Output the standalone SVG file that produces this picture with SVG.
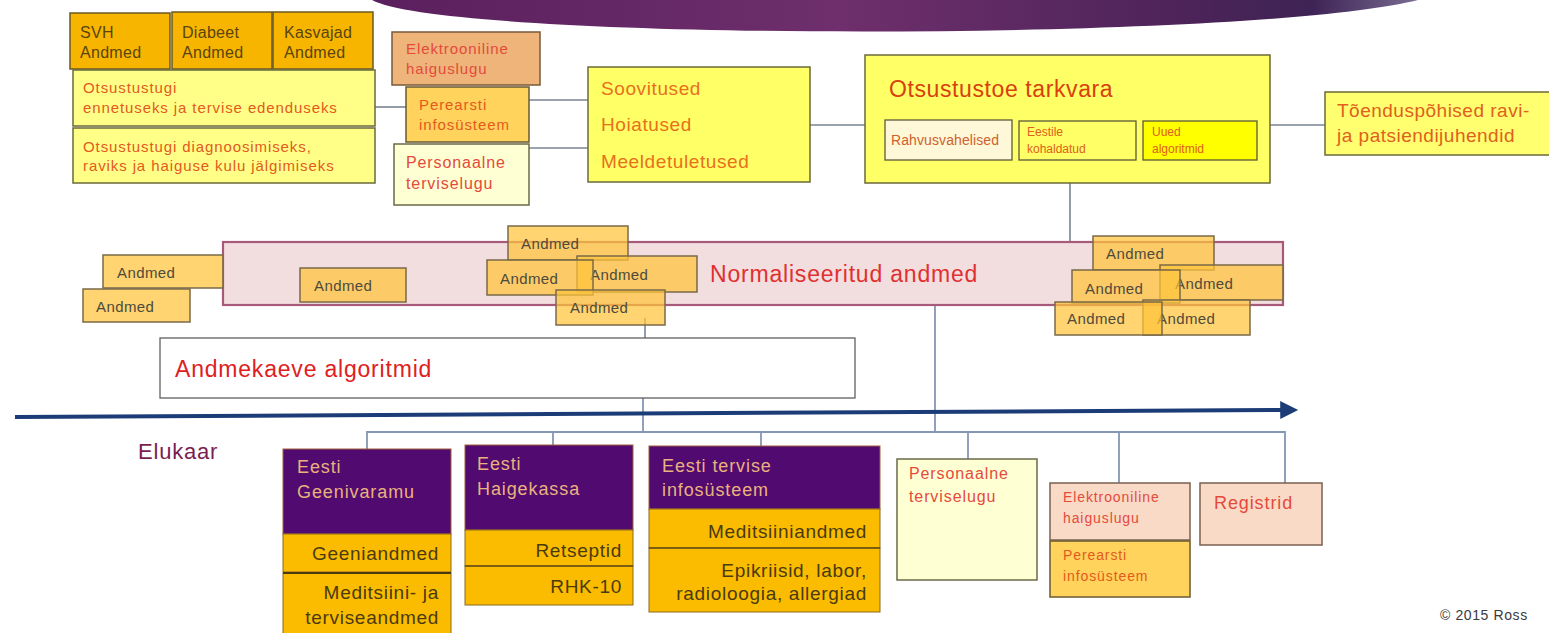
<svg xmlns="http://www.w3.org/2000/svg" width="1549" height="633" viewBox="0 0 1549 633">
<style>
text{font-family:"Liberation Sans",Arial,sans-serif;}
.b{stroke-width:1.5;}
.org{fill:#f7b500;stroke:#6a5a22;}
.lyel{fill:#ffff88;stroke:#6a6a3a;}
.yel{fill:#ffff66;stroke:#6a6a3a;}
.tan{fill:#eeb47a;stroke:#7a5a3a;}
.per{fill:#ffd35c;stroke:#6a5a30;}
.cream{fill:#ffffd4;stroke:#6a6a4a;}
.peach{fill:#f9dac6;stroke:#7a6050;}
.and{fill:#ffc43a;fill-opacity:0.72;stroke:#7a6a48;stroke-width:1.5;}
.pur{fill:#500a70;stroke:#a0603a;stroke-width:1;}
.gold{fill:#fbbc00;stroke:#8a6a20;stroke-width:1;}
.tdark{fill:#5a4410;font-size:16px;letter-spacing:0.3px;}
.tor{fill:#e35a1c;font-size:15px;letter-spacing:0.9px;}
.tred{fill:#e54a3c;font-size:16px;letter-spacing:0.9px;}
.tand{fill:#4e4a3c;font-size:15px;letter-spacing:0.4px;}
.tpur{fill:#eab27c;font-size:18px;letter-spacing:0.9px;}
.tg{fill:#4a3a10;font-size:19px;letter-spacing:0.7px;text-anchor:end;}
.ln{stroke:#7a8494;stroke-width:1.6;fill:none;}
.bus{stroke:#8596b4;stroke-width:1.8;fill:none;}
</style>
<defs>
<linearGradient id="banner" x1="0" x2="1" y1="0" y2="0">
<stop offset="0" stop-color="#5a1f5e"/>
<stop offset="0.45" stop-color="#6e2f6c"/>
<stop offset="0.8" stop-color="#4a2358"/>
<stop offset="0.9" stop-color="#3e2456"/>
<stop offset="1" stop-color="#7a6c92"/>
</linearGradient>
<marker id="arr" viewBox="0 0 20 20" markerWidth="20" markerHeight="18" refX="2" refY="10" orient="auto" markerUnits="userSpaceOnUse">
<path d="M0,0 L20,10 L0,20 z" fill="#1c3c78"/>
</marker>
</defs>
<rect width="1549" height="633" fill="#ffffff"/>
<path id="banner-shape" d="M372,0 C450,42 1250,42 1418,0 Z" fill="url(#banner)"/>

<g id="connectors">
<line class="ln" x1="375" y1="107" x2="406" y2="107"/>
<line class="ln" x1="529" y1="100" x2="588" y2="100"/>
<line class="ln" x1="529" y1="148" x2="588" y2="148"/>
<line class="ln" x1="810" y1="125" x2="865" y2="125"/>
<line class="ln" x1="1270" y1="125" x2="1325" y2="125"/>
<line class="ln" x1="1070" y1="183" x2="1070" y2="242"/>
<line class="ln" x1="645" y1="318" x2="645" y2="338"/>
<line class="bus" x1="643" y1="398" x2="643" y2="432"/>
<line class="bus" x1="935" y1="305" x2="935" y2="432"/>
<polyline class="bus" points="367,450 367,432 1285,432 1285,483"/>
<line class="bus" x1="553" y1="432" x2="553" y2="445"/>
<line class="bus" x1="761" y1="432" x2="761" y2="446"/>
<line class="bus" x1="968" y1="432" x2="968" y2="459"/>
<line class="bus" x1="1119" y1="432" x2="1119" y2="483"/>
<line x1="15" y1="417" x2="1282" y2="410" stroke="#1c3c78" stroke-width="4" marker-end="url(#arr)"/>
</g>

<g id="svh"><rect class="org b" x="70" y="13" width="100" height="56"/><text class="tdark" x="80" y="38">SVH</text><text class="tdark" x="80" y="58">Andmed</text></g>
<g id="diabeet"><rect class="org b" x="172" y="12" width="100" height="57"/><text class="tdark" x="182" y="38">Diabeet</text><text class="tdark" x="182" y="58">Andmed</text></g>
<g id="kasvajad"><rect class="org b" x="273" y="12" width="100" height="57"/><text class="tdark" x="284" y="38">Kasvajad</text><text class="tdark" x="284" y="58">Andmed</text></g>
<g id="otsustustugi1"><rect class="lyel b" x="73" y="70" width="302" height="56"/><text class="tor" x="83" y="93">Otsustustugi</text><text class="tor" x="83" y="113">ennetuseks ja tervise edenduseks</text></g>
<g id="otsustustugi2"><rect class="lyel b" x="73" y="128" width="302" height="55"/><text class="tor" x="83" y="152">Otsustustugi diagnoosimiseks,</text><text class="tor" x="83" y="171">raviks ja haiguse kulu jälgimiseks</text></g>

<g id="ehl-top"><rect class="tan b" x="392" y="32" width="148" height="53"/><text class="tred" x="406" y="54" style="font-size:15px">Elektrooniline</text><text class="tred" x="406" y="74" style="font-size:15px">haiguslugu</text></g>
<g id="pis-top"><rect class="per b" x="406" y="87" width="123" height="55"/><text class="tor" x="419" y="110">Perearsti</text><text class="tor" x="419" y="130">infosüsteem</text></g>
<g id="ptl-top"><rect class="cream b" x="394" y="144" width="135" height="61"/><text class="tred" x="406" y="168">Personaalne</text><text class="tred" x="406" y="189">terviselugu</text></g>

<g id="soovitused"><rect class="yel b" x="588" y="67" width="222" height="115"/>
<text x="601" y="95" fill="#e8701c" style="font-size:19px;letter-spacing:0.6px">Soovitused</text>
<text x="601" y="131" fill="#e8701c" style="font-size:19px;letter-spacing:0.6px">Hoiatused</text>
<text x="601" y="168" fill="#e8701c" style="font-size:19px;letter-spacing:0.6px">Meeldetuletused</text></g>

<g id="otsustustoe"><rect class="yel b" x="865" y="55" width="405" height="128"/>
<text x="889" y="97" fill="#d8400e" style="font-size:23px;letter-spacing:0.6px">Otsustustoe tarkvara</text>
<rect x="885" y="120" width="127" height="40" fill="#fff8d8" stroke="#5a5a3a" stroke-width="1.3"/>
<text x="891" y="145" fill="#d0602c" style="font-size:14px;letter-spacing:0.1px">Rahvusvahelised</text>
<rect x="1019" y="121" width="117" height="39" fill="#ffff66" stroke="#5a5a3a" stroke-width="1.3"/>
<text x="1027" y="136" fill="#e0601c" style="font-size:12px">Eestile</text>
<text x="1027" y="153" fill="#e0601c" style="font-size:12px">kohaldatud</text>
<rect x="1143" y="121" width="114" height="39" fill="#ffff00" stroke="#5a5a3a" stroke-width="1.3"/>
<text x="1152" y="136" fill="#e0601c" style="font-size:12px">Uued</text>
<text x="1152" y="153" fill="#e0601c" style="font-size:12px">algoritmid</text></g>

<g id="toenduspohised"><rect class="yel b" x="1325" y="92" width="230" height="63" style="fill:#ffff70"/>
<text x="1337" y="117" fill="#e0601c" style="font-size:19px;letter-spacing:0.5px">Tõenduspõhised ravi-</text>
<text x="1337" y="142" fill="#e0601c" style="font-size:19px;letter-spacing:0.5px">ja patsiendijuhendid</text></g>

<g id="normaliseeritud"><rect x="223" y="242" width="1060" height="63" fill="#f2dede" stroke="#a85a7a" stroke-width="2.2"/>
<text x="710" y="282" fill="#e03030" style="font-size:23px;letter-spacing:0.8px">Normaliseeritud andmed</text></g>

<g id="andmed-1"><rect class="and" x="103" y="255" width="120" height="33"/><text class="tand" x="117" y="278">Andmed</text></g>
<g id="andmed-2"><rect class="and" x="83" y="289" width="107" height="33"/><text class="tand" x="96" y="312">Andmed</text></g>
<g id="andmed-3"><rect class="and" x="300" y="268" width="106" height="34"/><text class="tand" x="314" y="291">Andmed</text></g>
<g id="andmed-4"><rect class="and" x="508" y="226" width="120" height="34"/><text class="tand" x="521" y="249">Andmed</text></g>
<g id="andmed-6"><rect class="and" x="577" y="256" width="120" height="36"/><text class="tand" x="590" y="280">Andmed</text></g>
<g id="andmed-5"><rect class="and" x="487" y="260" width="106" height="35"/><text class="tand" x="500" y="284">Andmed</text></g>
<g id="andmed-7"><rect class="and" x="556" y="290" width="109" height="35"/><text class="tand" x="570" y="313">Andmed</text></g>
<g id="andmed-8"><rect class="and" x="1093" y="236" width="121" height="34"/><text class="tand" x="1106" y="259">Andmed</text></g>
<g id="andmed-10"><rect class="and" x="1160" y="265" width="123" height="35"/><text class="tand" x="1175" y="289">Andmed</text></g>
<g id="andmed-9"><rect class="and" x="1072" y="270" width="108" height="33"/><text class="tand" x="1085" y="294">Andmed</text></g>
<g id="andmed-12"><rect class="and" x="1143" y="300" width="107" height="35"/><text class="tand" x="1157" y="324">Andmed</text></g>
<g id="andmed-11"><rect class="and" x="1055" y="302" width="107" height="33"/><text class="tand" x="1067" y="324">Andmed</text></g>

<g id="andmekaeve"><rect x="160" y="338" width="695" height="60" fill="#ffffff" stroke="#606060" stroke-width="1.3"/>
<text x="175" y="377" fill="#e02020" style="font-size:23px;letter-spacing:0.8px">Andmekaeve algoritmid</text></g>

<g id="elukaar"><text x="138" y="459" fill="#7a1e50" style="font-size:22px;letter-spacing:0.8px">Elukaar</text></g>

<g id="geenivaramu">
<rect class="pur" x="283" y="449" width="168" height="85"/>
<text class="tpur" x="297" y="473">Eesti</text><text class="tpur" x="297" y="498">Geenivaramu</text>
<rect class="gold" x="283" y="534" width="168" height="38"/>
<text class="tg" x="439" y="560">Geeniandmed</text>
<rect class="gold" x="283" y="573" width="168" height="64"/>
<line x1="283" y1="573" x2="451" y2="573" stroke="#4a3a10" stroke-width="2"/>
<text class="tg" x="439" y="599">Meditsiini- ja</text><text class="tg" x="439" y="624">terviseandmed</text>
</g>

<g id="haigekassa">
<rect class="pur" x="465" y="445" width="168" height="85"/>
<text class="tpur" x="477" y="470">Eesti</text><text class="tpur" x="477" y="495">Haigekassa</text>
<rect class="gold" x="465" y="530" width="168" height="36"/>
<text class="tg" x="622" y="557">Retseptid</text>
<rect class="gold" x="465" y="566" width="168" height="39"/>
<line x1="465" y1="566" x2="633" y2="566" stroke="#6a5010" stroke-width="1.5"/>
<text class="tg" x="622" y="593">RHK-10</text>
</g>

<g id="eesti-tervise">
<rect class="pur" x="649" y="446" width="231" height="63"/>
<text class="tpur" x="662" y="472">Eesti tervise</text><text class="tpur" x="662" y="496">infosüsteem</text>
<rect class="gold" x="649" y="509" width="231" height="39"/>
<text class="tg" x="867" y="538">Meditsiiniandmed</text>
<rect class="gold" x="649" y="548" width="231" height="64"/>
<line x1="649" y1="548" x2="880" y2="548" stroke="#6a5010" stroke-width="1.5"/>
<text class="tg" x="867" y="577">Epikriisid, labor,</text><text class="tg" x="867" y="600">radioloogia, allergiad</text>
</g>

<g id="ptl-bottom"><rect class="cream b" x="897" y="459" width="140" height="121"/><text class="tred" x="909" y="479">Personaalne</text><text class="tred" x="909" y="502">terviselugu</text></g>
<g id="ehl-bottom"><rect class="peach b" x="1050" y="483" width="140" height="57"/><text class="tred" x="1063" y="502" style="font-size:14px">Elektrooniline</text><text class="tred" x="1063" y="523" style="font-size:14px">haiguslugu</text></g>
<g id="pis-bottom"><rect class="per b" x="1050" y="541" width="140" height="56"/><text class="tor" x="1063" y="560" style="font-size:14px">Perearsti</text><text class="tor" x="1063" y="581" style="font-size:14px">infosüsteem</text></g>
<g id="registrid"><rect class="peach b" x="1200" y="483" width="122" height="62"/><text class="tred" x="1214" y="509" style="font-size:18px">Registrid</text></g>

<text x="1440" y="620" fill="#3a3a3a" style="font-size:14px;letter-spacing:0.6px">© 2015 Ross</text>
</svg>
